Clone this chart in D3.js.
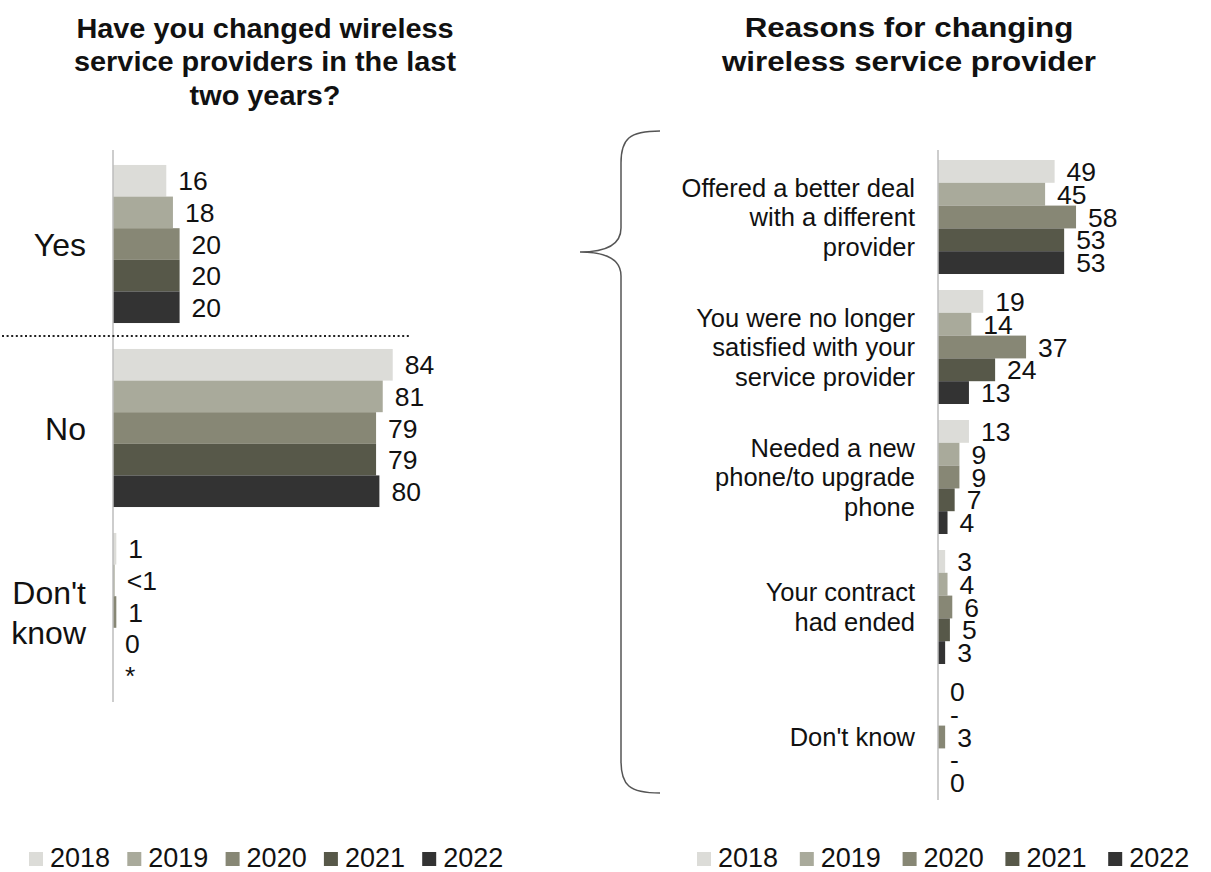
<!DOCTYPE html>
<html>
<head>
<meta charset="utf-8">
<script src="https://cdn.jsdelivr.net/npm/d3@7"></script>
<style>
  html, body { margin: 0; padding: 0; background: #fff; }
  svg { display: block; font-family: Arial, "Liberation Sans", sans-serif; }
</style>
</head>
<body>
<svg id="chart" width="1211" height="872"></svg>
<script>
// Survey years and their bar colours
const years = ["2018", "2019", "2020", "2021", "2022"];
const yearColors = ["#dcdcd8", "#a9aa9b", "#878775", "#575849", "#333333"];

// Left panel: switched provider in the last two years (%)
const switchCategories = ["Yes", "No", "Don't know"];
const switchLines = [["Yes"], ["No"], ["Don't", "know"]];
const switch2018 = [16, 84, 1];
const switch2019 = [18, 81, 0.5];
const switch2020 = [20, 79, 1];
const switch2021 = [20, 79, 0];
const switch2022 = [20, 80, 0];
const switchLabels = [
  ["16", "18", "20", "20", "20"],
  ["84", "81", "79", "79", "80"],
  ["1", "<1", "1", "0", "*"]
];

// Right panel: reasons for switching (%), null = not asked
const reasonCategories = ["deal", "satisfied", "phone", "contract", "dk"];
const reasonLines = [
  ["Offered a better deal", "with a different", "provider"],
  ["You were no longer", "satisfied with your", "service provider"],
  ["Needed a new", "phone/to upgrade", "phone"],
  ["Your contract", "had ended"],
  ["Don't know"]
];
const reason2018 = [49, 19, 13, 3, 0];
const reason2019 = [45, 14, 9, 4, null];
const reason2020 = [58, 37, 9, 6, 3];
const reason2021 = [53, 24, 7, 5, null];
const reason2022 = [53, 13, 4, 3, 0];

const switchByYear = [switch2018, switch2019, switch2020, switch2021, switch2022];
const reasonByYear = [reason2018, reason2019, reason2020, reason2021, reason2022];

const svg = d3.select("#chart");
const color = d3.scaleOrdinal().domain(years).range(yearColors);
const valueFont = 26.5;

// ---------- Titles (slightly widened bold face) ----------
function title(lines, cx, y0, step, stretch) {
  svg.append("g")
    .attr("transform", `translate(${cx},0) scale(${stretch},1)`)
    .append("text")
    .attr("text-anchor", "middle")
    .attr("font-weight", "bold")
    .attr("font-size", 27)
    .attr("fill", "#111")
    .selectAll("tspan").data(lines).join("tspan")
    .attr("x", 0)
    .attr("y", (d, i) => y0 + i * step)
    .text(d => d);
}
title(["Have you changed wireless", "service providers in the last", "two years?"], 265, 38, 33.5, 1.07);
title(["Reasons for changing", "wireless service provider"], 909, 37, 34, 1.16);

// ---------- Generic grouped horizontal bar panel ----------
function panel(opts) {
  const x = d3.scaleLinear().domain([0, 100]).range([opts.x0, opts.x0 + opts.pxPer100]);
  const y = d3.scaleBand().domain(opts.categories).range(opts.yRange)
    .paddingInner(opts.pad).paddingOuter(opts.pad / 2);
  const yInner = d3.scaleBand().domain(years).range([0, y.bandwidth()]);

  const g = svg.append("g");

  const groups = g.selectAll("g.grp").data(opts.categories).join("g")
    .attr("class", "grp")
    .attr("transform", c => `translate(0,${y(c)})`);

  groups.each(function (c, ci) {
    const rows = years.map((yr, yi) => ({
      year: yr,
      value: opts.byYear[yi][ci],
      label: opts.labelFor(ci, yi)
    }));
    const gg = d3.select(this);
    gg.selectAll("rect").data(rows.filter(r => r.value !== null && r.value > 0)).join("rect")
      .attr("x", x(0))
      .attr("y", r => yInner(r.year))
      .attr("width", r => x(r.value) - x(0))
      .attr("height", yInner.bandwidth())
      .attr("fill", r => color(r.year));
    gg.selectAll("text.val").data(rows).join("text")
      .attr("class", "val")
      .attr("x", r => x(r.value || 0) + 12)
      .attr("y", r => yInner(r.year) + yInner.bandwidth() / 2)
      .attr("dy", "0.36em")
      .attr("font-size", valueFont)
      .attr("fill", "#111")
      .text(r => r.label);
  });

  // category labels
  opts.categories.forEach((c, ci) => {
    const lines = opts.lines[ci];
    const cy = y(c) + y.bandwidth() / 2;
    const t = g.append("text")
      .attr("text-anchor", "end")
      .attr("font-size", opts.catFont)
      .attr("fill", "#111");
    t.selectAll("tspan").data(lines).join("tspan")
      .attr("x", opts.catX)
      .attr("y", (d, i) => cy + (i - (lines.length - 1) / 2) * opts.lineStep)
      .attr("dy", "0.36em")
      .text(d => d);
  });

  // vertical axis line
  g.append("line")
    .attr("x1", x(0)).attr("x2", x(0))
    .attr("y1", opts.axisY[0]).attr("y2", opts.axisY[1])
    .attr("stroke", "#bdbdbd").attr("stroke-width", 1.5);

  return { x, y };
}

const leftPanel = panel({
  categories: switchCategories,
  lines: switchLines,
  byYear: switchByYear,
  labelFor: (ci, yi) => switchLabels[ci][yi],
  x0: 113, pxPer100: 333,
  yRange: [152, 704], pad: 0.141,
  catX: 86, catFont: 32, lineStep: 40,
  axisY: [150, 702]
});

const rightPanel = panel({
  categories: reasonCategories,
  lines: reasonLines,
  byYear: reasonByYear,
  labelFor: (ci, yi) => {
    const v = reasonByYear[yi][ci];
    return v === null ? "-" : String(v);
  },
  x0: 938, pxPer100: 238,
  yRange: [152, 802], pad: 0.123,
  catX: 915, catFont: 25.5, lineStep: 29.5,
  axisY: [150, 800]
});

// dotted separator between "Yes" and "No"
const ly = leftPanel.y;
const sepY = (ly("Yes") + ly.bandwidth() + ly("No")) / 2;
svg.append("line")
  .attr("x1", 2).attr("x2", 411)
  .attr("y1", sepY).attr("y2", sepY)
  .attr("stroke", "#222").attr("stroke-width", 2)
  .attr("stroke-dasharray", "2,2.6");

// brace linking "Yes" to the reasons panel
const tipY = ly("Yes") + ly.bandwidth() / 2 + 8;
const braceTop = 131, braceBottom = 793, bx = 621, tipX = 580, endX = 660;
svg.append("path")
  .attr("d", `M${endX},${braceTop} C${bx + 8},${braceTop} ${bx},${braceTop + 8} ${bx},${braceTop + 32}
              L${bx},${tipY - 24} C${bx},${tipY - 8} ${bx - 14},${tipY} ${tipX},${tipY}
              C${bx - 14},${tipY} ${bx},${tipY + 8} ${bx},${tipY + 24}
              L${bx},${braceBottom - 32} C${bx},${braceBottom - 8} ${bx + 8},${braceBottom} ${endX},${braceBottom}`)
  .attr("fill", "none").attr("stroke", "#555").attr("stroke-width", 1.5);

// ---------- Legends ----------
function legend(x0, step) {
  const lx = d3.scalePoint().domain(years).range([x0, x0 + step * 4]);
  const g = svg.append("g");
  const items = g.selectAll("g").data(years).join("g")
    .attr("transform", d => `translate(${lx(d)},0)`);
  items.append("rect")
    .attr("x", 0).attr("y", 852).attr("width", 14).attr("height", 14)
    .attr("fill", d => color(d));
  items.append("text")
    .attr("x", 21).attr("y", 867)
    .attr("font-size", 27).attr("fill", "#111")
    .text(d => d);
}
legend(29, 98.3);
legend(697, 102.8);
</script>
</body>
</html>
